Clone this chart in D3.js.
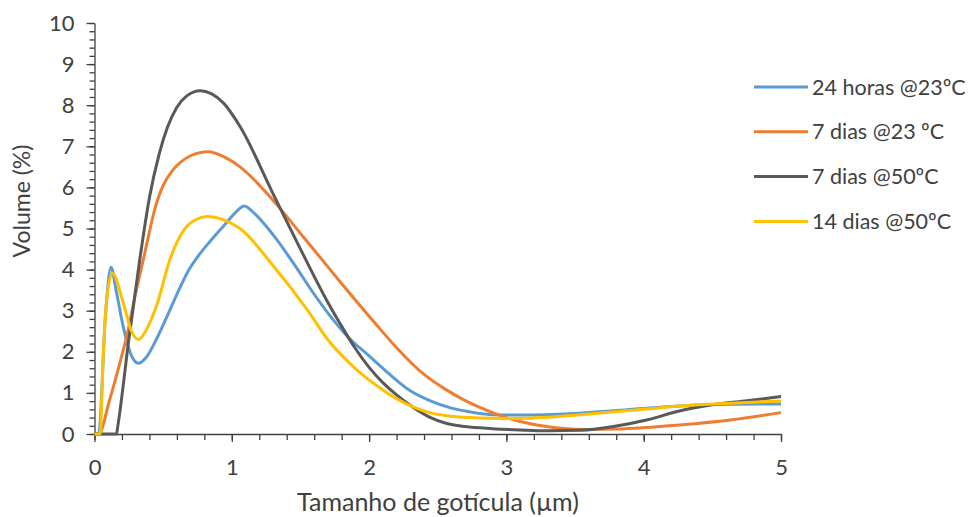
<!DOCTYPE html>
<html>
<head>
<meta charset="utf-8">
<script src="https://cdn.jsdelivr.net/npm/d3@7"></script>
<style>
  body { margin: 0; background: #fff; }
  text { font-family: Lato, "Open Sans", sans-serif; fill: #404040; }
</style>
</head>
<body>
<div id="chart"></div>
<script>
// series (x in µm, y in volume %)
var seriesNames = ["24 horas @23ºC", "7 dias @23 ºC", "7 dias @50ºC", "14 dias @50ºC"];
var seriesColors = ["#5B9BD5", "#ED7D31", "#595959", "#FFC000"];

var blue = [[0,0],[0.03,0],[0.08,2.9],[0.12,4.06],[0.16,3.45],[0.21,2.6],[0.27,1.9],[0.32,1.72],
  [0.38,1.88],[0.45,2.3],[0.52,2.8],[0.6,3.4],[0.68,3.95],[0.76,4.35],[0.85,4.72],[0.95,5.1],
  [1.03,5.4],[1.09,5.55],[1.17,5.35],[1.3,4.85],[1.45,4.15],[1.6,3.4],[1.71,2.9],[1.85,2.35],
  [2.0,1.9],[2.15,1.45],[2.3,1.05],[2.45,0.8],[2.6,0.63],[2.75,0.53],[2.9,0.47],[3.1,0.46],
  [3.5,0.5],[4.0,0.62],[4.5,0.72],[5,0.73]];
var orange = [[0,0],[0.03,0],[0.11,0.83],[0.19,1.8],[0.24,2.45],[0.3,3.43],[0.36,4.31],[0.45,5.6],
  [0.5,6.05],[0.57,6.42],[0.63,6.62],[0.7,6.77],[0.76,6.84],[0.83,6.87],[0.94,6.75],[1.06,6.5],
  [1.3,5.69],[1.52,4.8],[1.79,3.7],[2.03,2.75],[2.2,2.1],[2.4,1.45],[2.56,1.08],[2.69,0.83],
  [2.81,0.64],[3.0,0.4],[3.2,0.23],[3.4,0.14],[3.6,0.11],[3.8,0.12],[4.26,0.22],[4.63,0.34],[5,0.52]];
var gray = [[0,0],[0.16,0],[0.17,0.2],[0.25,2.3],[0.33,4.25],[0.4,5.75],[0.47,6.8],[0.53,7.45],
  [0.6,7.95],[0.67,8.22],[0.77,8.35],[0.85,8.28],[0.94,8.05],[1.06,7.48],[1.3,5.85],[1.5,4.5],
  [1.7,3.2],[1.8,2.62],[1.9,2.08],[2.0,1.62],[2.1,1.25],[2.2,0.95],[2.32,0.65],[2.44,0.41],
  [2.56,0.26],[2.7,0.18],[2.9,0.13],[3.1,0.1],[3.3,0.08],[3.54,0.09],[3.78,0.18],[4.02,0.34],
  [4.26,0.56],[4.5,0.71],[4.75,0.81],[5,0.91]];
var yellow = [[0,0],[0.04,0],[0.065,2.0],[0.09,3.3],[0.13,3.91],[0.21,3.18],[0.27,2.5],[0.32,2.3],
  [0.38,2.55],[0.45,3.1],[0.55,4.25],[0.65,4.96],[0.74,5.22],[0.82,5.29],[0.94,5.21],[1.06,5.0],
  [1.3,4.1],[1.55,3.02],[1.71,2.25],[1.85,1.75],[1.96,1.42],[2.08,1.12],[2.2,0.86],[2.32,0.66],
  [2.44,0.52],[2.6,0.43],[2.8,0.39],[3.0,0.38],[3.3,0.41],[3.54,0.47],[4.0,0.6],[4.26,0.68],
  [4.63,0.75],[5,0.8]];
var allSeries = [blue, orange, gray, yellow];

var xTicks = [0, 1, 2, 3, 4, 5];
var yTicks = [0, 1, 2, 3, 4, 5, 6, 7, 8, 9, 10];

var svg = d3.select("#chart").append("svg")
    .attr("width", 975)
    .attr("height", 517);

var x = d3.scaleLinear().domain([0, 5]).range([94.5, 781]);
var y = d3.scaleLinear().domain([0, 10]).range([434, 23]);

var minorX = d3.range(0, 5.001, 0.2).map(function(d) { return +d.toFixed(1); });
var minorY = d3.range(0, 10.001, 0.2).map(function(d) { return +d.toFixed(1); });

// minor ticks
svg.append("g")
  .attr("transform", "translate(0,434)")
  .call(d3.axisBottom(x).tickValues(minorX).tickSize(6).tickFormat(""))
  .call(function(g) { g.select(".domain").remove(); });
svg.append("g")
  .attr("transform", "translate(94.5,0)")
  .call(d3.axisLeft(y).tickValues(minorY).tickSize(5).tickFormat(""))
  .call(function(g) { g.select(".domain").remove(); });

// main axes
svg.append("g")
  .attr("transform", "translate(0,434)")
  .call(d3.axisBottom(x).tickValues(xTicks).tickFormat(d3.format("d"))
    .tickSize(8).tickPadding(17).tickSizeOuter(0));
svg.append("g")
  .attr("transform", "translate(94.5,0)")
  .call(d3.axisLeft(y).tickValues(yTicks).tickFormat(d3.format("d"))
    .tickSize(8).tickPadding(12).tickSizeOuter(0));

svg.selectAll(".tick line, .domain").attr("stroke", "#404040").attr("stroke-width", 1.3);
svg.selectAll(".tick text").style("font-size", "22px").style("font-family", "Lato, sans-serif").attr("fill", "#404040");

// lines
var line = d3.line()
  .x(function(d) { return x(d[0]); })
  .y(function(d) { return y(d[1]); })
  .curve(d3.curveMonotoneX);

svg.append("g").selectAll("path")
  .data(allSeries)
  .join("path")
  .attr("fill", "none")
  .attr("stroke", function(d, i) { return seriesColors[i]; })
  .attr("stroke-width", 3)
  .attr("stroke-linejoin", "round")
  .attr("d", line);

// axis titles
svg.append("text")
  .attr("x", 438).attr("y", 511)
  .attr("text-anchor", "middle")
  .style("font-size", "25px")
  .text("Tamanho de gotícula (µm)");
svg.append("text")
  .attr("transform", "translate(30,201) rotate(-90)")
  .attr("text-anchor", "middle")
  .style("font-size", "23px")
  .text("Volume (%)");

// legend
var legend = svg.append("g").selectAll("g")
  .data(seriesNames)
  .join("g")
  .attr("transform", function(d, i) { return "translate(754," + (87 + i * 44.8) + ")"; });
legend.append("line")
  .attr("x1", 0).attr("x2", 54)
  .attr("stroke", function(d, i) { return seriesColors[i]; })
  .attr("stroke-width", 3);
legend.append("text")
  .attr("x", 58).attr("dy", "0.35em")
  .style("font-size", "21.5px")
  .text(function(d) { return d; });
</script>
</body>
</html>
